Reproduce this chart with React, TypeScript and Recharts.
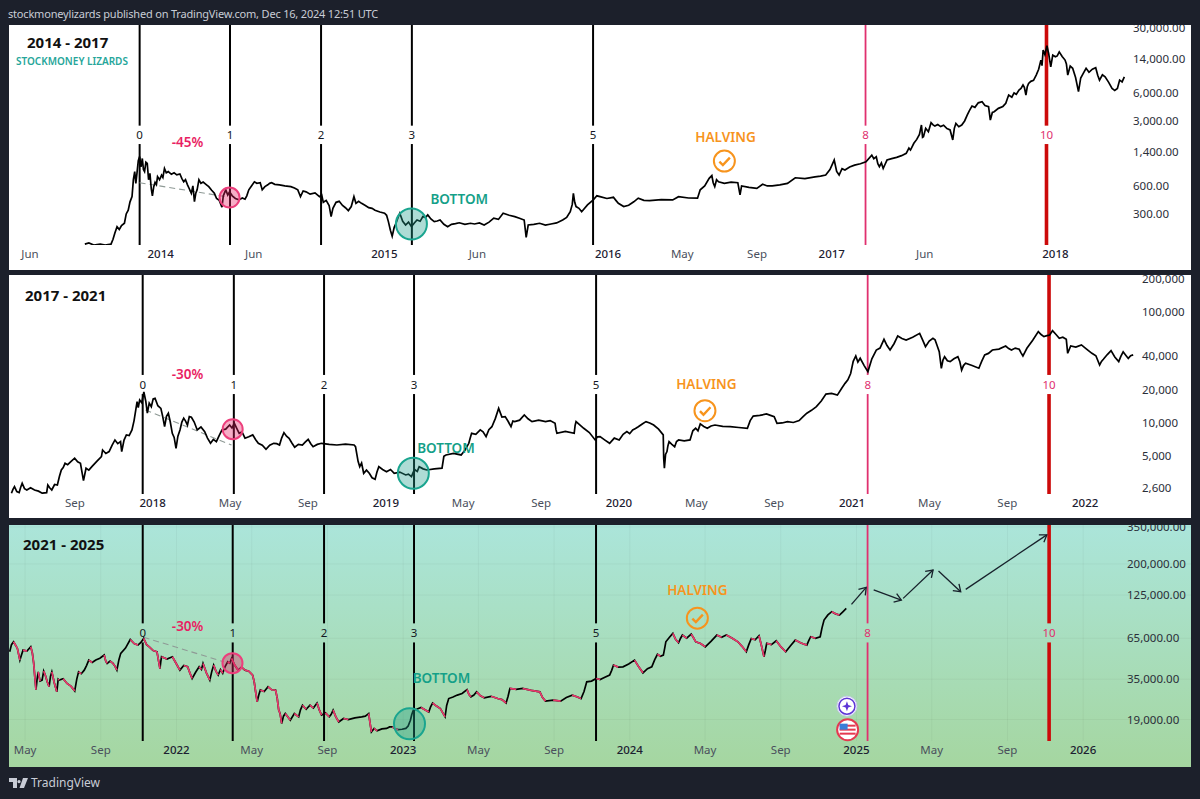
import React from 'react';
import { ComposedChart, Line, XAxis, YAxis, CartesianGrid, ReferenceLine, ReferenceDot } from 'recharts';

const FONT = '"Noto Sans", sans-serif';

// cycle marker names, same in every panel
const cycleMarks = ['0', '1', '2', '3', '5', '8', '10'];

// 2014 - 2017
const years1 = [
  2013.661, 2013.679, 2013.701, 2013.730, 2013.752, 2013.778, 2013.787, 2013.795, 2013.805, 2013.815,
  2013.825, 2013.838, 2013.846, 2013.855, 2013.863, 2013.872, 2013.878, 2013.884, 2013.889, 2013.894,
  2013.900, 2013.906, 2013.912, 2013.918, 2013.923, 2013.928, 2013.934, 2013.940, 2013.946, 2013.952,
  2013.958, 2013.963, 2013.969, 2013.975, 2013.981, 2013.986, 2013.995, 2014.004, 2014.010, 2014.017,
  2014.025, 2014.034, 2014.048, 2014.060, 2014.072, 2014.086, 2014.095, 2014.103, 2014.111, 2014.120,
  2014.128, 2014.137, 2014.144, 2014.151, 2014.157, 2014.163, 2014.171, 2014.180, 2014.190, 2014.205,
  2014.215, 2014.228, 2014.240, 2014.250, 2014.262, 2014.274, 2014.280, 2014.291, 2014.300, 2014.308,
  2014.320, 2014.334, 2014.350, 2014.365, 2014.377, 2014.385, 2014.394, 2014.406, 2014.419, 2014.430,
  2014.445, 2014.450, 2014.454, 2014.466, 2014.479, 2014.487, 2014.496, 2014.510, 2014.531, 2014.555,
  2014.582, 2014.598, 2014.613, 2014.619, 2014.625, 2014.637, 2014.650, 2014.668, 2014.690, 2014.710,
  2014.720, 2014.727, 2014.740, 2014.753, 2014.762, 2014.770, 2014.784, 2014.798, 2014.813, 2014.826,
  2014.839, 2014.852, 2014.864, 2014.873, 2014.885, 2014.898, 2014.915, 2014.930, 2014.945, 2014.958,
  2014.980, 2015.001, 2015.010, 2015.018, 2015.027, 2015.035, 2015.044, 2015.052, 2015.060, 2015.069,
  2015.082, 2015.095, 2015.108, 2015.121, 2015.134, 2015.146, 2015.160, 2015.172, 2015.184, 2015.194,
  2015.208, 2015.223, 2015.236, 2015.249, 2015.266, 2015.283, 2015.300, 2015.318, 2015.335, 2015.360,
  2015.385, 2015.403, 2015.425, 2015.446, 2015.468, 2015.489, 2015.510, 2015.531, 2015.558, 2015.583,
  2015.604, 2015.625, 2015.634, 2015.643, 2015.668, 2015.694, 2015.720, 2015.745, 2015.770, 2015.797,
  2015.815, 2015.831, 2015.840, 2015.845, 2015.851, 2015.857, 2015.870, 2015.882, 2015.908, 2015.934,
  2015.950, 2015.964, 2015.995, 2016.024, 2016.035, 2016.046, 2016.070, 2016.092, 2016.115, 2016.135,
  2016.160, 2016.186, 2016.238, 2016.289, 2016.315, 2016.360, 2016.400, 2016.412, 2016.432, 2016.452,
  2016.464, 2016.470, 2016.477, 2016.485, 2016.494, 2016.520, 2016.550, 2016.580, 2016.590, 2016.597,
  2016.630, 2016.665, 2016.691, 2016.712, 2016.734, 2016.768, 2016.802, 2016.837, 2016.880, 2016.925,
  2016.950, 2016.973, 2016.992, 2017.011, 2017.022, 2017.033, 2017.046, 2017.059, 2017.080, 2017.102,
  2017.128, 2017.153, 2017.179, 2017.188, 2017.199, 2017.206, 2017.213, 2017.222, 2017.230, 2017.238,
  2017.247, 2017.268, 2017.290, 2017.312, 2017.333, 2017.345, 2017.352, 2017.367, 2017.380, 2017.392,
  2017.401, 2017.406, 2017.410, 2017.420, 2017.432, 2017.444, 2017.453, 2017.461, 2017.474, 2017.487,
  2017.500, 2017.515, 2017.529, 2017.541, 2017.548, 2017.555, 2017.568, 2017.581, 2017.594, 2017.606,
  2017.616, 2017.627, 2017.640, 2017.655, 2017.672, 2017.685, 2017.701, 2017.709, 2017.718, 2017.726,
  2017.745, 2017.765, 2017.778, 2017.785, 2017.791, 2017.805, 2017.815, 2017.825, 2017.837, 2017.846,
  2017.855, 2017.861, 2017.868, 2017.874, 2017.880, 2017.890, 2017.902, 2017.914, 2017.925, 2017.935,
  2017.940, 2017.945, 2017.953, 2017.962, 2017.970, 2017.979, 2017.988, 2018.000, 2018.008, 2018.017,
  2018.030, 2018.043, 2018.049, 2018.055, 2018.066, 2018.077, 2018.090, 2018.103, 2018.113, 2018.125,
  2018.137, 2018.150, 2018.165, 2018.180, 2018.189, 2018.197, 2018.210, 2018.222, 2018.238, 2018.253,
  2018.265, 2018.277, 2018.287, 2018.298, 2018.308,
];
const prices1 = [
  142, 146, 139, 142, 139, 142, 160, 186, 219, 204,
  225, 238, 300, 329, 405, 460, 700, 855, 640, 820,
  1120, 1240, 960, 1185, 900, 855, 1080, 1050, 700, 820,
  560, 470, 590, 655, 620, 757, 700, 785, 740, 925,
  830, 855, 800, 830, 790, 807, 720, 665, 700, 617,
  560, 500, 600, 407, 500, 545, 700, 640, 660, 617,
  590, 540, 500, 440, 420, 354, 470, 545, 480, 518,
  470, 440, 425, 445, 432, 470, 545, 600, 665, 640,
  650, 590, 545, 590, 617, 640, 650, 625, 617, 600,
  590, 570, 545, 500, 460, 530, 518, 490, 505, 460,
  480, 400, 420, 370, 281, 345, 400, 410, 370, 350,
  326, 360, 460, 390, 410, 390, 370, 350, 345, 329,
  315, 305, 290, 248, 200, 173, 215, 238, 270, 305,
  250, 228, 245, 219, 240, 258, 250, 281, 275, 293,
  265, 248, 252, 258, 232, 219, 232, 236, 241, 232,
  238, 234, 240, 228, 245, 270, 262, 305, 290, 281,
  270, 258, 168, 228, 232, 238, 228, 234, 240, 258,
  275, 317, 380, 500, 400, 360, 345, 317, 375, 425,
  470, 460, 440, 453, 420, 390, 360, 372, 405, 443,
  420, 417, 428, 425, 460, 445, 443, 545, 600, 725,
  775, 650, 590, 700, 665, 640, 660, 650, 480, 600,
  580, 565, 625, 600, 600, 615, 640, 735, 720, 750,
  765, 785, 900, 1140, 860, 785, 920, 890, 960, 1005,
  1040, 1090, 1285, 1180, 1235, 1040, 965, 1060, 925, 1020,
  1140, 1180, 1218, 1270, 1345, 1530, 1460, 1725, 1900, 2150,
  2715, 2000, 2030, 2500, 2300, 2870, 2720, 2650, 2750, 2610,
  2700, 2480, 2400, 1875, 2500, 2825, 2600, 2715, 3000, 3480,
  3900, 4340, 4200, 4700, 4830, 4400, 4270, 3070, 3700, 3770,
  4100, 4300, 4640, 5200, 5700, 5400, 6000, 5800, 6450, 6700,
  7300, 6900, 5700, 7000, 7600, 8000, 8200, 9350, 10800, 13550,
  11800, 17350, 15500, 19300, 15800, 11450, 15300, 14700, 15000, 16600,
  14800, 13550, 12300, 9350, 11700, 11050, 8800, 6200, 8700, 9800,
  11050, 10000, 10800, 11200, 9300, 8250, 9400, 8950, 7800, 6700,
  6400, 6700, 8250, 7900, 8950,
];
const xTicks1 = [2013.416, 2014, 2014.416, 2015, 2015.416, 2016, 2016.332, 2016.666, 2017, 2017.416, 2018];
const xLabels1 = ['Jun', '2014', 'Jun', '2015', 'Jun', '2016', 'May', 'Sep', '2017', 'Jun', '2018'];
const yTicks1 = [30000, 14000, 6000, 3000, 1400, 600, 300];
const markYears1 = [2013.906, 2014.310, 2014.717, 2015.123, 2015.933, 2017.151, 2017.960];

// 2017 - 2021
const years2 = [
  2017.394, 2017.400, 2017.407, 2017.417, 2017.427, 2017.433, 2017.440, 2017.450, 2017.460, 2017.476,
  2017.493, 2017.510, 2017.526, 2017.545, 2017.550, 2017.558, 2017.567, 2017.579, 2017.591, 2017.600,
  2017.608, 2017.616, 2017.624, 2017.635, 2017.650, 2017.665, 2017.678, 2017.690, 2017.703, 2017.714,
  2017.726, 2017.739, 2017.760, 2017.780, 2017.785, 2017.799, 2017.813, 2017.826, 2017.838, 2017.850,
  2017.862, 2017.867, 2017.877, 2017.887, 2017.899, 2017.911, 2017.920, 2017.927, 2017.933, 2017.938,
  2017.944, 2017.953, 2017.962, 2017.970, 2017.977, 2017.985, 2017.994, 2018.002, 2018.010, 2018.022,
  2018.035, 2018.043, 2018.051, 2018.059, 2018.067, 2018.075, 2018.084, 2018.092, 2018.100, 2018.108,
  2018.117, 2018.125, 2018.133, 2018.141, 2018.149, 2018.157, 2018.166, 2018.178, 2018.191, 2018.207,
  2018.223, 2018.235, 2018.248, 2018.260, 2018.273, 2018.285, 2018.297, 2018.313, 2018.330, 2018.340,
  2018.350, 2018.361, 2018.371, 2018.383, 2018.396, 2018.412, 2018.429, 2018.441, 2018.453, 2018.470,
  2018.486, 2018.502, 2018.519, 2018.532, 2018.544, 2018.553, 2018.563, 2018.574, 2018.585, 2018.597,
  2018.609, 2018.625, 2018.642, 2018.654, 2018.667, 2018.678, 2018.688, 2018.706, 2018.724, 2018.757,
  2018.790, 2018.827, 2018.864, 2018.870, 2018.875, 2018.881, 2018.888, 2018.896, 2018.905, 2018.917,
  2018.929, 2018.941, 2018.954, 2018.962, 2018.970, 2018.986, 2019.003, 2019.020, 2019.036, 2019.060,
  2019.085, 2019.097, 2019.110, 2019.118, 2019.126, 2019.135, 2019.143, 2019.160, 2019.176, 2019.208,
  2019.241, 2019.249, 2019.258, 2019.290, 2019.323, 2019.340, 2019.356, 2019.362, 2019.368, 2019.386,
  2019.405, 2019.417, 2019.430, 2019.442, 2019.455, 2019.470, 2019.484, 2019.498, 2019.512, 2019.525,
  2019.537, 2019.545, 2019.553, 2019.574, 2019.594, 2019.610, 2019.627, 2019.656, 2019.685, 2019.705,
  2019.726, 2019.730, 2019.734, 2019.770, 2019.808, 2019.812, 2019.816, 2019.832, 2019.849, 2019.873,
  2019.898, 2019.908, 2019.919, 2019.940, 2019.960, 2019.980, 2020.001, 2020.018, 2020.034, 2020.046,
  2020.059, 2020.071, 2020.083, 2020.100, 2020.116, 2020.132, 2020.149, 2020.170, 2020.190, 2020.192,
  2020.195, 2020.200, 2020.206, 2020.210, 2020.215, 2020.227, 2020.239, 2020.247, 2020.256, 2020.280,
  2020.305, 2020.317, 2020.329, 2020.339, 2020.349, 2020.364, 2020.379, 2020.395, 2020.412, 2020.445,
  2020.477, 2020.514, 2020.551, 2020.563, 2020.576, 2020.604, 2020.633, 2020.650, 2020.666, 2020.678,
  2020.700, 2020.723, 2020.748, 2020.773, 2020.790, 2020.806, 2020.826, 2020.847, 2020.868, 2020.888,
  2020.912, 2020.937, 2020.955, 2020.970, 2020.982, 2020.994, 2021.005, 2021.016, 2021.025, 2021.035,
  2021.052, 2021.068, 2021.085, 2021.104, 2021.120, 2021.137, 2021.150, 2021.163, 2021.180, 2021.196,
  2021.214, 2021.232, 2021.260, 2021.290, 2021.303, 2021.315, 2021.331, 2021.347, 2021.356, 2021.364,
  2021.374, 2021.383, 2021.390, 2021.397, 2021.409, 2021.421, 2021.437, 2021.454, 2021.462, 2021.470,
  2021.478, 2021.487, 2021.515, 2021.544, 2021.556, 2021.569, 2021.585, 2021.602, 2021.630, 2021.659,
  2021.672, 2021.684, 2021.700, 2021.717, 2021.725, 2021.733, 2021.741, 2021.750, 2021.775, 2021.799,
  2021.811, 2021.823, 2021.836, 2021.848, 2021.860, 2021.875, 2021.889, 2021.904, 2021.919, 2021.925,
  2021.938, 2021.960, 2021.984, 2022.006, 2022.029, 2022.046, 2022.062, 2022.070, 2022.078, 2022.095,
  2022.111, 2022.127, 2022.144, 2022.153, 2022.163, 2022.174, 2022.185, 2022.195, 2022.206,
];
const prices2 = [
  2320, 2500, 2660, 2400, 2345, 2600, 2850, 2550, 2480, 2600,
  2480, 2420, 2320, 2345, 2750, 2600, 2480, 2780, 2750, 3300,
  3760, 3950, 4320, 4200, 4500, 4800, 4450, 4320, 3010, 3900,
  3750, 4030, 4500, 4960, 5700, 5300, 5510, 6300, 7020, 6500,
  6780, 5510, 7000, 7800, 7700, 8650, 10500, 13000, 15600, 13800,
  16100, 15200, 19050, 15800, 12250, 15100, 14000, 16500, 16700, 14300,
  13550, 11400, 9250, 11500, 12250, 10300, 8060, 7400, 5900, 7600,
  8650, 10200, 11050, 10400, 9580, 11400, 11250, 10200, 8650, 9200,
  8350, 7300, 6550, 7100, 6780, 7700, 8650, 8800, 9580, 9000,
  9930, 8900, 8060, 8300, 7280, 7500, 7800, 7100, 6550, 6300,
  5780, 6300, 6550, 6500, 6320, 7300, 8180, 7600, 7280, 6600,
  6030, 6400, 6320, 6700, 7120, 6500, 6100, 6400, 6550, 6400,
  6320, 6450, 6320, 6100, 5320, 4500, 4030, 4350, 3510, 3750,
  3510, 3200, 3100, 3600, 4030, 3800, 3630, 3800, 3510, 3600,
  3390, 3450, 3280, 3600, 3760, 3650, 4030, 3850, 3760, 3850,
  3900, 5000, 5140, 5300, 5140, 5700, 6550, 7300, 8060, 7900,
  8650, 8300, 7520, 8700, 9250, 11000, 13550, 11300, 11400, 10300,
  9250, 10400, 10280, 10600, 11800, 10900, 10280, 10600, 10280, 10500,
  9930, 8700, 8060, 8400, 8060, 9500, 10280, 9600, 8950, 8200,
  7020, 7500, 7520, 7000, 6550, 7300, 7020, 7900, 8350, 8000,
  8650, 8900, 9250, 9800, 10280, 10000, 9580, 8800, 7800, 4800,
  3900, 5200, 5510, 6200, 6780, 6400, 6100, 6800, 7020, 6900,
  7020, 8500, 8950, 8500, 9800, 9300, 8950, 9400, 9580, 9300,
  9250, 9100, 8950, 10500, 11550, 11700, 12050, 11700, 11400, 9930,
  10000, 10280, 10100, 10500, 11400, 12250, 13000, 14050, 15800, 18250,
  18500, 17850, 20500, 22800, 24500, 28000, 36000, 40300, 35500, 38400,
  33000, 29100, 38000, 45600, 47500, 57000, 50000, 45600, 52000, 61100,
  58000, 56200, 59500, 64500, 56000, 48900, 55000, 58300, 56500, 50700,
  44000, 31200, 37000, 39700, 36500, 35800, 38000, 39700, 36000, 30000,
  33000, 34600, 33000, 31200, 36000, 41200, 42500, 45600, 46500, 49600,
  47000, 45600, 47500, 46300, 43000, 40300, 43500, 47300, 56000, 66900,
  63000, 60300, 61500, 62400, 68300, 63000, 58300, 59500, 57000, 42600,
  49600, 48500, 50700, 46500, 42600, 40500, 33400, 36000, 37600, 41500,
  45000, 39500, 35800, 40000, 44000, 41000, 38300, 40500, 41200,
];
const xTicks2 = [2017.666, 2018, 2018.332, 2018.666, 2019, 2019.332, 2019.666, 2020, 2020.332, 2020.666, 2021, 2021.332, 2021.666, 2022];
const xLabels2 = ['Sep', '2018', 'May', 'Sep', '2019', 'May', 'Sep', '2020', 'May', 'Sep', '2021', 'May', 'Sep', '2022'];
const yTicks2 = [200000, 100000, 40000, 20000, 10000, 5000, 2600];
const markYears2 = [2017.957, 2018.348, 2018.735, 2019.121, 2019.902, 2021.067, 2021.845];

// 2021 - 2025
const years3 = [
  2021.264, 2021.272, 2021.281, 2021.290, 2021.298, 2021.309, 2021.316, 2021.323, 2021.340, 2021.357,
  2021.364, 2021.370, 2021.375, 2021.380, 2021.385, 2021.390, 2021.398, 2021.407, 2021.414, 2021.421,
  2021.430, 2021.438, 2021.444, 2021.450, 2021.461, 2021.472, 2021.478, 2021.483, 2021.500, 2021.517,
  2021.534, 2021.551, 2021.560, 2021.568, 2021.580, 2021.593, 2021.603, 2021.613, 2021.628, 2021.644,
  2021.662, 2021.681, 2021.688, 2021.694, 2021.707, 2021.720, 2021.729, 2021.737, 2021.746, 2021.754,
  2021.775, 2021.796, 2021.813, 2021.830, 2021.843, 2021.855, 2021.868, 2021.880, 2021.897, 2021.914,
  2021.920, 2021.927, 2021.931, 2021.934, 2021.958, 2021.982, 2021.998, 2022.015, 2022.032, 2022.049,
  2022.059, 2022.069, 2022.085, 2022.100, 2022.110, 2022.117, 2022.132, 2022.147, 2022.156, 2022.164,
  2022.174, 2022.184, 2022.194, 2022.204, 2022.215, 2022.226, 2022.235, 2022.243, 2022.258, 2022.272,
  2022.287, 2022.302, 2022.319, 2022.336, 2022.343, 2022.349, 2022.356, 2022.363, 2022.370, 2022.387,
  2022.404, 2022.420, 2022.437, 2022.444, 2022.451, 2022.457, 2022.464, 2022.472, 2022.480, 2022.491,
  2022.502, 2022.520, 2022.539, 2022.547, 2022.556, 2022.572, 2022.589, 2022.604, 2022.620, 2022.630,
  2022.640, 2022.657, 2022.674, 2022.682, 2022.691, 2022.703, 2022.716, 2022.737, 2022.758, 2022.787,
  2022.817, 2022.833, 2022.848, 2022.854, 2022.860, 2022.872, 2022.885, 2022.906, 2022.927, 2022.940,
  2022.952, 2022.965, 2022.978, 2022.995, 2023.012, 2023.022, 2023.032, 2023.038, 2023.045, 2023.062,
  2023.079, 2023.096, 2023.113, 2023.121, 2023.130, 2023.147, 2023.164, 2023.175, 2023.185, 2023.192,
  2023.201, 2023.220, 2023.239, 2023.260, 2023.282, 2023.290, 2023.299, 2023.312, 2023.324, 2023.341,
  2023.358, 2023.388, 2023.417, 2023.436, 2023.454, 2023.463, 2023.471, 2023.499, 2023.527, 2023.565,
  2023.603, 2023.615, 2023.628, 2023.662, 2023.695, 2023.720, 2023.746, 2023.766, 2023.785, 2023.798,
  2023.810, 2023.831, 2023.852, 2023.869, 2023.890, 2023.911, 2023.920, 2023.928, 2023.949, 2023.970,
  2023.995, 2024.021, 2024.040, 2024.058, 2024.078, 2024.097, 2024.110, 2024.122, 2024.135, 2024.148,
  2024.154, 2024.159, 2024.175, 2024.190, 2024.202, 2024.215, 2024.224, 2024.232, 2024.251, 2024.271,
  2024.281, 2024.291, 2024.312, 2024.333, 2024.358, 2024.384, 2024.405, 2024.426, 2024.452, 2024.477,
  2024.495, 2024.514, 2024.525, 2024.536, 2024.553, 2024.570, 2024.581, 2024.592, 2024.598, 2024.604,
  2024.625, 2024.646, 2024.667, 2024.688, 2024.709, 2024.730, 2024.755, 2024.781, 2024.790, 2024.798,
  2024.819, 2024.840, 2024.848, 2024.857, 2024.874, 2024.891, 2024.908, 2024.925, 2024.940, 2024.955,
];
const prices3 = [
  52950, 59000, 61600, 58500, 55700, 46700, 50500, 54300, 53500, 57100,
  52000, 44400, 36000, 29800, 35000, 39100, 34000, 34500, 39500, 37200,
  33500, 31200, 36500, 39100, 33000, 28900, 35000, 34500, 35200, 32800,
  31500, 29300, 35000, 39100, 38000, 40100, 43000, 46700, 45000, 46700,
  48000, 50400, 46000, 44400, 46000, 44400, 42500, 40100, 47000, 51700,
  56000, 63800, 60000, 58600, 61000, 64800, 59000, 57100, 54000, 52950,
  47000, 41100, 46000, 49100, 47500, 49100, 44500, 40100, 43000, 42200,
  38500, 35350, 39000, 42200, 40500, 44400, 38500, 34500, 39500, 43300,
  39500, 37200, 40500, 38300, 42500, 45500, 44500, 47900, 43000, 40100,
  42000, 40100, 39500, 37200, 33500, 29000, 24800, 27500, 29700, 29000,
  31200, 29800, 29700, 26500, 21900, 20800, 17900, 20000, 20800, 19800,
  18800, 20800, 19800, 22000, 23600, 22200, 23600, 22600, 24400, 22000,
  20300, 21000, 19800, 20500, 21900, 19800, 18300, 19300, 19000, 19500,
  19800, 20000, 20800, 18000, 15750, 16600, 16000, 16500, 16600, 17000,
  17000, 16500, 16300, 16400, 16600, 17200, 18800, 20500, 21900, 22300,
  22800, 22000, 21300, 23000, 24400, 23300, 22400, 21000, 19800, 23500,
  26100, 26700, 27500, 28200, 29900, 27800, 26800, 27500, 28900, 27200,
  26400, 27000, 26100, 25700, 24400, 27000, 30400, 30000, 30400, 29500,
  28900, 26500, 25100, 25500, 25100, 26500, 27500, 26800, 26100, 29000,
  33600, 34000, 35350, 34800, 36000, 37200, 40000, 43300, 42000, 42200,
  44000, 46700, 42000, 38500, 41000, 42200, 47000, 51000, 49500, 50400,
  56000, 61600, 66000, 70000, 64000, 60700, 65000, 68200, 65000, 69200,
  65500, 61600, 60000, 57100, 62000, 68200, 66000, 68200, 65000, 61600,
  57500, 52950, 59000, 64800, 63500, 67500, 58000, 49100, 54000, 60100,
  59000, 62600, 57000, 52950, 58000, 63200, 60500, 58600, 63000, 66500,
  65000, 66500, 76000, 85600, 92500, 97100, 94000, 92400, 97000, 102000,
];
const xTicks3 = [2021.332, 2021.666, 2022, 2022.332, 2022.666, 2023, 2023.332, 2023.666, 2024, 2024.332, 2024.666, 2025, 2025.332, 2025.666, 2026];
const xLabels3 = ['May', 'Sep', '2022', 'May', 'Sep', '2023', 'May', 'Sep', '2024', 'May', 'Sep', '2025', 'May', 'Sep', '2026'];
const yTicks3 = [350000, 200000, 125000, 65000, 35000, 19000];
const markYears3 = [2021.851, 2022.248, 2022.651, 2023.048, 2023.851, 2025.049, 2025.850];

// projected path in the last panel: [fromYear, fromPrice, toYear, toPrice]
const arrows3 = [
  [2024.978, 108500, 2025.043, 140300],
  [2025.076, 134900, 2025.198, 115900],
  [2025.206, 118800, 2025.338, 182400],
  [2025.362, 179800, 2025.460, 131400],
  [2025.482, 136200, 2025.840, 310500],
];

const toRows = (years: number[], prices: number[]) => years.map((year, i) => ({ year, price: prices[i] }));

// pairs of points on falling stretches, broken by empty rows, for the red candles
const fallingRows = (years: number[], prices: number[]) => {
  const rows: { year: number; price: number | null }[] = [];
  for (let i = 1; i < years.length; i++) {
    if (prices[i] < prices[i - 1]) {
      rows.push({ year: years[i - 1], price: prices[i - 1] }, { year: years[i], price: prices[i] }, { year: years[i], price: null });
    }
  }
  return rows;
};

const ArrowTip = (p: any) => {
  if (p.index !== 1 || !p.points) return <g key={p.index} />;
  const a = p.points[0];
  const b = p.points[1];
  const ang = Math.atan2(b.y - a.y, b.x - a.x);
  const size = 8;
  const wing = (d: number) => `${b.x - size * Math.cos(ang + d)},${b.y - size * Math.sin(ang + d)}`;
  return <polyline key={p.index} points={`${wing(0.6)} ${b.x},${b.y} ${wing(-0.6)}`} fill="none" stroke="#17212b" strokeWidth={1.3} />;
};

const HalvingCheck = ({ cx, cy }: any) => (
  <g fill="none" stroke="#f7941d" strokeWidth={2}>
    <circle cx={cx} cy={cy} r={10.5} />
    <path d={`M${cx - 5} ${cy + 0.5} L${cx - 1.5} ${cy + 4} L${cx + 5.5} ${cy - 3.5}`} strokeWidth={2.4} />
  </g>
);

const StarIcon = ({ cx, cy }: any) => (
  <g>
    <circle cx={cx} cy={cy} r={10} fill="#ffffff" stroke="#c8c8f0" />
    <circle cx={cx} cy={cy} r={8} fill="#ffffff" stroke="#5e35d6" strokeWidth={1.5} />
    <path d={`M${cx} ${cy - 5} L${cx + 1.3} ${cy - 1.3} L${cx + 5} ${cy} L${cx + 1.3} ${cy + 1.3} L${cx} ${cy + 5} L${cx - 1.3} ${cy + 1.3} L${cx - 5} ${cy} L${cx - 1.3} ${cy - 1.3} Z`} fill="#5e35d6" />
  </g>
);

const FlagIcon = ({ cx, cy }: any) => (
  <g>
    <circle cx={cx} cy={cy} r={10.5} fill="#ffffff" stroke="#e53950" strokeWidth={2} />
    <rect x={cx - 8} y={cy - 5} width={16} height={2} fill="#e53950" />
    <rect x={cx - 8} y={cy - 1} width={16} height={2} fill="#e53950" />
    <rect x={cx - 8} y={cy + 3} width={16} height={2} fill="#e53950" />
    <rect x={cx - 8} y={cy - 6} width={8} height={6} fill="#3b7dd8" />
  </g>
);

interface PanelProps {
  title: string;
  top: number;
  height: number;
  axisHeight: number;
  xDomain: number[];
  yDomain: number[];
  years: number[];
  prices: number[];
  xTicks: number[];
  xLabels: string[];
  yTicks: number[];
  yDecimals: boolean;
  yLabelX: number;
  markYears: number[];
  gap: number[];
  drawdown: number[];
  dropLabel: string;
  dropAt: number[];
  pinkAt: number[];
  tealAt: number[];
  bottomAt: number[];
  halvingAt: number[];
  checkAt: number[];
  titleX: number;
  titleY: number;
  green?: boolean;
  children?: React.ReactNode;
}

const Panel = (p: PanelProps) => {
  const [topPrice, bottomPrice] = [p.yDomain[1], p.yDomain[0]];
  const markStyle = (i: number) => {
    if (i === 6) return { stroke: '#cc0a0a', strokeWidth: 3.6 };
    if (i === 5) return { stroke: '#e0306f', strokeWidth: 1.8 };
    return { stroke: '#000000', strokeWidth: 2 };
  };
  const textLabel = (value: string, fill: string, fontSize: number, fontWeight: number) => ({
    value, fill, fontSize, fontWeight, fontFamily: FONT, position: 'center' as const,
  });
  return (
    <div style={{
      position: 'absolute', left: 9, top: p.top, width: 1182, height: p.height, overflow: 'hidden',
      background: p.green ? 'linear-gradient(#abe5da, #a5d6a0)' : '#ffffff',
    }}>
      <div style={{ position: 'absolute', left: p.titleX, top: p.titleY, fontFamily: FONT, fontWeight: 700, fontSize: 15, color: '#111', lineHeight: '16px', zIndex: 2 }}>{p.title}</div>
      {p.children}
      <ComposedChart width={1183} height={p.height} data={toRows(p.years, p.prices)} margin={{ top: 0, right: 0, bottom: 0, left: 0 }}>
        {p.green && <CartesianGrid stroke="#000000" strokeOpacity={0.04} syncWithTicks />}
        <XAxis
          dataKey="year" type="number" domain={p.xDomain} allowDataOverflow ticks={p.xTicks} interval={0}
          height={p.axisHeight} axisLine={false} tickLine={false}
          tick={(t: any) => {
            const label = p.xLabels[p.xTicks.indexOf(t.payload.value)];
            const isYear = label.length === 4;
            return (
              <text x={t.x} y={t.y} dy={5} textAnchor="middle" fontFamily={FONT} fontSize={11.5}
                fontWeight={isYear ? 500 : 400} fill={isYear ? '#1c2030' : '#4a4f5c'}>{label}</text>
            );
          }}
        />
        <YAxis
          type="number" scale="log" domain={p.yDomain} allowDataOverflow orientation="right" width={1}
          ticks={p.yTicks} interval={0} axisLine={false} tickLine={false}
          tick={(t: any) => (
            <text x={p.yLabelX} y={t.y} dy={4} textAnchor="start" fontFamily={FONT} fontSize={11.5} fill="#2a2e39">
              {t.payload.value.toLocaleString('en-US') + (p.yDecimals ? '.00' : '')}
            </text>
          )}
        />
        {p.markYears.flatMap((x, i) => [
          <ReferenceLine key={`up${i}`} segment={[{ x, y: topPrice }, { x, y: p.gap[0] }]} {...markStyle(i)} />,
          <ReferenceLine key={`low${i}`} segment={[{ x, y: p.gap[1] }, { x, y: bottomPrice }]} {...markStyle(i)} />,
          <ReferenceDot key={`num${i}`} x={x} y={Math.sqrt(p.gap[0] * p.gap[1])} r={0} stroke="none" fill="none"
            label={textLabel(cycleMarks[i], i < 5 ? '#131722' : '#e0306f', 11.5, 400)} />,
        ])}
        <Line data={[{ year: p.drawdown[0], price: p.drawdown[1] }, { year: p.drawdown[2], price: p.drawdown[3] }]}
          dataKey="price" stroke="#8f9a96" strokeWidth={1.1} strokeDasharray="6 4" dot={false} isAnimationActive={false} />
        <Line dataKey="price" stroke="#000000" strokeWidth={1.7} dot={false} isAnimationActive={false} />
        {p.green && (
          <Line data={fallingRows(p.years, p.prices)} dataKey="price" stroke="#e8396c" strokeWidth={1.7} dot={false} isAnimationActive={false} />
        )}
        {p.green && arrows3.map((a, i) => (
          <Line key={i} data={[{ year: a[0], price: a[1] }, { year: a[2], price: a[3] }]} dataKey="price"
            stroke="#17212b" strokeWidth={1.3} dot={ArrowTip} isAnimationActive={false} />
        ))}
        <ReferenceDot x={p.pinkAt[0]} y={p.pinkAt[1]} r={10} fill="#e91e63" fillOpacity={0.36} stroke="#ec3f7c" strokeWidth={2} />
        <ReferenceDot x={p.tealAt[0]} y={p.tealAt[1]} r={15.5} fill="#1f9e8a" fillOpacity={0.36} stroke="#1aa58f" strokeWidth={2} />
        <ReferenceDot x={p.dropAt[0]} y={p.dropAt[1]} r={0} stroke="none" fill="none" label={textLabel(p.dropLabel, '#e91e63', 13.5, 600)} />
        <ReferenceDot x={p.bottomAt[0]} y={p.bottomAt[1]} r={0} stroke="none" fill="none" label={textLabel('BOTTOM', '#14a088', 13.5, 600)} />
        <ReferenceDot x={p.halvingAt[0]} y={p.halvingAt[1]} r={0} stroke="none" fill="none" label={textLabel('HALVING', '#f7941d', 13.5, 600)} />
        <ReferenceDot x={p.checkAt[0]} y={p.checkAt[1]} shape={HalvingCheck} />
        {p.green && <ReferenceDot x={2024.958} y={23250} shape={StarIcon} />}
        {p.green && <ReferenceDot x={2024.961} y={16300} shape={FlagIcon} />}
      </ComposedChart>
    </div>
  );
};

export default function App() {
  return (
    <div style={{ position: 'fixed', left: 0, top: 0, width: 1200, height: 799, background: '#1c202b', overflow: 'hidden' }}>
      <div style={{ position: 'absolute', left: 8, top: 6, fontFamily: FONT, fontSize: 11, letterSpacing: -0.19, color: '#c8ccd6', lineHeight: '16px', whiteSpace: 'nowrap' }}>
        stockmoneylizards published on TradingView.com, Dec 16, 2024 12:51 UTC
      </div>
      <Panel
        title="2014 - 2017" titleX={18} titleY={9} top={25} height={245} axisHeight={25}
        xDomain={[2013.322, 2018.606]} yDomain={[139, 32300]}
        years={years1} prices={prices1} xTicks={xTicks1} xLabels={xLabels1}
        yTicks={yTicks1} yDecimals yLabelX={1124} markYears={markYears1} gap={[2670, 1694]}
        drawdown={[2013.906, 650, 2014.291, 460]} dropLabel="-45%" dropAt={[2014.120, 1760]}
        pinkAt={[2014.308, 450]} tealAt={[2015.121, 234]}
        bottomAt={[2015.335, 433]} halvingAt={[2016.525, 2020]} checkAt={[2016.520, 1110]}
      >
        <div style={{ position: 'absolute', left: 7, top: 29, fontFamily: FONT, fontWeight: 600, fontSize: 10, color: '#26a69a', zIndex: 2 }}>STOCKMONEY LIZARDS</div>
      </Panel>
      <Panel
        title="2017 - 2021" titleX={16} titleY={12} top={275} height={243} axisHeight={24}
        xDomain={[2017.3835, 2022.454]} yDomain={[2281, 217200]}
        years={years2} prices={prices2} xTicks={xTicks2} xLabels={xLabels2}
        yTicks={yTicks2} yDecimals={false} yLabelX={1133} markYears={markYears2} gap={[27150, 18250]}
        drawdown={[2017.969, 13100, 2018.338, 6320]} dropLabel="-30%" dropAt={[2018.149, 27300]}
        pinkAt={[2018.343, 8780]} tealAt={[2019.118, 3510]}
        bottomAt={[2019.258, 5900]} halvingAt={[2020.375, 22350]} checkAt={[2020.369, 12900]}
      />
      <Panel
        green title="2021 - 2025" titleX={14} titleY={11} top={525} height={242} axisHeight={26}
        xDomain={[2021.261, 2026.476]} yDomain={[13730, 360600]}
        years={years3} prices={prices3} xTicks={xTicks3} xLabels={xLabels3}
        yTicks={yTicks3} yDecimals yLabelX={1118} markYears={markYears3} gap={[81400, 61000]}
        drawdown={[2021.855, 66000, 2022.209, 45500]} dropLabel="-30%" dropAt={[2022.049, 78100]}
        pinkAt={[2022.247, 44600]} tealAt={[2023.028, 17800]}
        bottomAt={[2023.169, 35350]} halvingAt={[2024.298, 134900]} checkAt={[2024.298, 88100]}
      />
      <svg style={{ position: 'absolute', left: 9, top: 778 }} width={19} height={10} viewBox="0 0 19 10">
        <path d="M0 0H8V10H4V4H0Z M10 2a1.6 1.6 0 1 0 0.01 0Z M14 0H19L15 10H10.5Z" fill="#c8ccd6" />
      </svg>
      <div style={{ position: 'absolute', left: 31, top: 774, fontFamily: FONT, fontSize: 12, color: '#c8ccd6', lineHeight: '18px' }}>TradingView</div>
    </div>
  );
}
